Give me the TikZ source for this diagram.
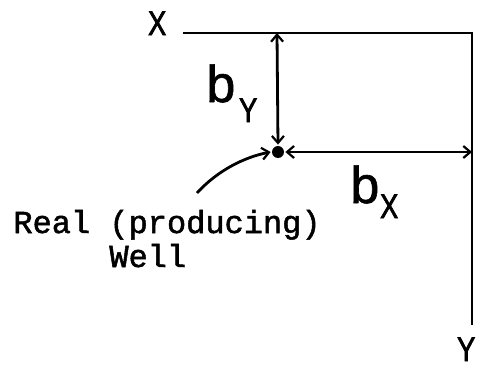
\documentclass[tikz,border=0pt]{standalone}
\usepackage{fontspec}
\usetikzlibrary{arrows.meta}
\newfontfamily\lblfont{Liberation Sans}[UprightFeatures={FakeBold=1.2}]
\newfontfamily\sublfont{Liberation Sans}[UprightFeatures={FakeBold=2.4}]
\newfontfamily\txtfont{Liberation Mono}[UprightFeatures={FakeBold=1.6}]
\tikzset{wtip/.tip={Straight Barb[length=7pt,width=12pt,line width=2.2pt]}}
\begin{document}
\begin{tikzpicture}[x=1pt,y=-1pt,line width=2.8pt,
  bigb/.style={inner sep=0,anchor=base west,font=\lblfont\fontsize{52}{52}\selectfont},
  subl/.style={inner sep=0,anchor=base west,font=\sublfont\fontsize{34}{34}\selectfont,xscale=0.8,transform shape},
  mono/.style={inner sep=0,anchor=base west,font=\txtfont\fontsize{32}{32}\selectfont}]
\useasboundingbox (0,0) rectangle (480,367);
% frame
\coordinate (tl) at (183,33);
\coordinate (tr) at (472,33);
\coordinate (br) at (472,325);
\draw (tl) -- (tr) -- (br);
% well
\node[circle,fill,inner sep=0,minimum size=12pt] (well) at (278,152) {};
\coordinate (vt) at (277,33);
\coordinate (hr) at (472,152);
\draw[{wtip}-{wtip}] (vt) -- (well.north);
\draw[{wtip}-{wtip}] (well.east) -- (hr);
\coordinate (cs) at (197,193);
\draw[-{wtip}] (cs) .. controls (218,170) and (245,157) .. (well.west);
% axis labels
\node[subl] (xl) at (147,35) {X};
\node[subl] (yl) at (456,361) {Y};
% distance labels
\node[bigb] (by) at (205,102) {b};
\node[subl] (bys) at (238,122) {Y};
\node[bigb] (bx) at (349,203) {b};
\node[subl] (bxs) at (379,218) {X};
% text
\node[mono] (t1) at (12,233) {Real (producing)};
\node[mono] (t2) at (108,267) {Well};
\end{tikzpicture}
\end{document}
